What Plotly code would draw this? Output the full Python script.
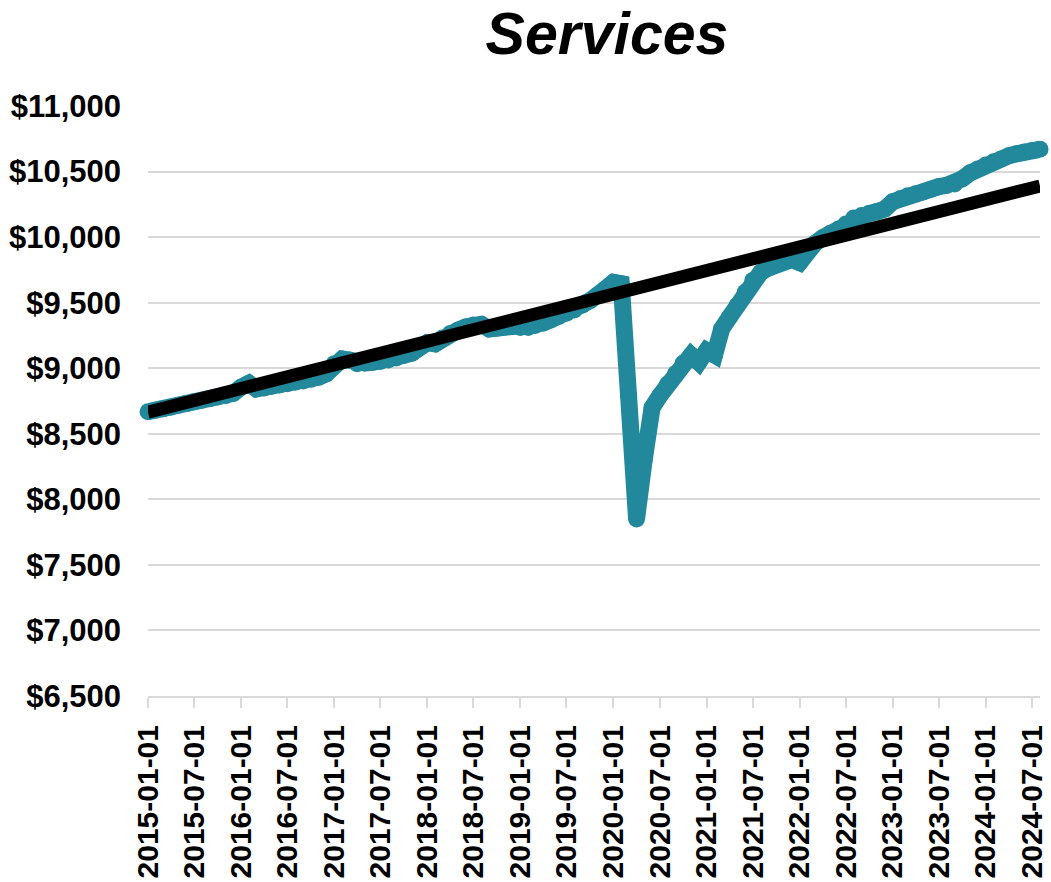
import pandas as pd
import plotly.graph_objects as go

# Monthly real spending on services, $ billions
months = pd.date_range("2015-01-01", "2024-08-01", freq="MS")
services = [
    # 2015
    8668, 8680, 8690, 8702, 8718, 8730, 8745, 8755, 8768, 8780, 8790, 8808,
    # 2016
    8855, 8885, 8842, 8850, 8862, 8872, 8882, 8893, 8903, 8915, 8932, 8958,
    # 2017
    9035, 9070, 9062, 9035, 9040, 9045, 9052, 9062, 9078, 9098, 9115, 9160,
    # 2018
    9195, 9185, 9230, 9265, 9290, 9315, 9330, 9335, 9300, 9305, 9315, 9318,
    # 2019
    9310, 9310, 9325, 9345, 9370, 9395, 9420, 9445, 9480, 9515, 9560, 9600,
    # 2020
    9655, 9645, 8800, 7850, 8300, 8700, 8790, 8880, 8960, 9040, 9100, 9045,
    # 2021
    9135, 9100, 9300, 9390, 9480, 9580, 9670, 9730, 9765, 9795, 9820, 9830,
    # 2022
    9805, 9895, 9950, 9995, 10030, 10060, 10100, 10145, 10165, 10180, 10195, 10215,
    # 2023
    10270, 10295, 10315, 10330, 10345, 10365, 10385, 10395, 10405, 10445, 10490, 10520,
    # 2024
    10550, 10575, 10595, 10620, 10635, 10650, 10660, 10670,
]

# Pre-pandemic linear trend, endpoints
trend_dates = ["2015-01-01", "2024-08-01"]
trend_values = [8665, 10390]

tick_labels = [
    "2015-01-01", "2015-07-01", "2016-01-01", "2016-07-01", "2017-01-01",
    "2017-07-01", "2018-01-01", "2018-07-01", "2019-01-01", "2019-07-01",
    "2020-01-01", "2020-07-01", "2021-01-01", "2021-07-01", "2022-01-01",
    "2022-07-01", "2023-01-01", "2023-07-01", "2024-01-01", "2024-07-01",
]
y_ticks = [6500, 7000, 7500, 8000, 8500, 9000, 9500, 10000, 10500, 11000]

GRID = "#d9d9d9"
TEAL = "#22889b"
FONT = "Liberation Sans, Arial, sans-serif"
TEAL_W = 17

fig = go.Figure()
# round markers at each vertex give the thick line rounded joins and caps
fig.add_trace(go.Scatter(
    x=months, y=services, mode="lines+markers",
    line=dict(color=TEAL, width=TEAL_W),
    marker=dict(color=TEAL, size=TEAL_W, line=dict(width=0)),
    cliponaxis=False,
    showlegend=False, hoverinfo="skip",
))
fig.add_trace(go.Scatter(
    x=trend_dates, y=trend_values, mode="lines",
    line=dict(color="#000000", width=13),
    showlegend=False, hoverinfo="skip",
))

fig.update_layout(
    width=1051, height=882,
    margin=dict(l=148, r=11, t=106, b=186),
    paper_bgcolor="white", plot_bgcolor="white",
    font=dict(family=FONT, color="black"),
    title=dict(
        text="<b><i>Services</i></b>",
        font=dict(family=FONT, size=59, color="black"),
        x=607 / 1051, xanchor="center",
        y=1 - 33 / 882, yanchor="middle",
        xref="container", yref="container",
    ),
)

fig.update_xaxes(
    type="date",
    range=[months[0], months[-1]],
    tickmode="array",
    tickvals=tick_labels,
    ticktext=[f"<b>{t}</b>" for t in tick_labels],
    tickangle=-90,
    tickfont=dict(family=FONT, size=30, color="black"),
    showgrid=False,
    showline=True, linecolor=GRID, linewidth=2,
    ticks="outside", ticklen=10, tickwidth=2, tickcolor=GRID,
    ticklabelstandoff=5,
    zeroline=False, automargin=False,
)
fig.update_yaxes(
    range=[6500, 11000],
    tickmode="array",
    tickvals=y_ticks,
    ticktext=[f"<b>${v:,}</b>" for v in y_ticks],
    tickfont=dict(family=FONT, size=31, color="black"),
    showgrid=True, gridcolor=GRID, gridwidth=2,
    showline=False, zeroline=False,
    ticks="", ticklabelstandoff=26, automargin=False,
)

fig.write_html("out.html")
